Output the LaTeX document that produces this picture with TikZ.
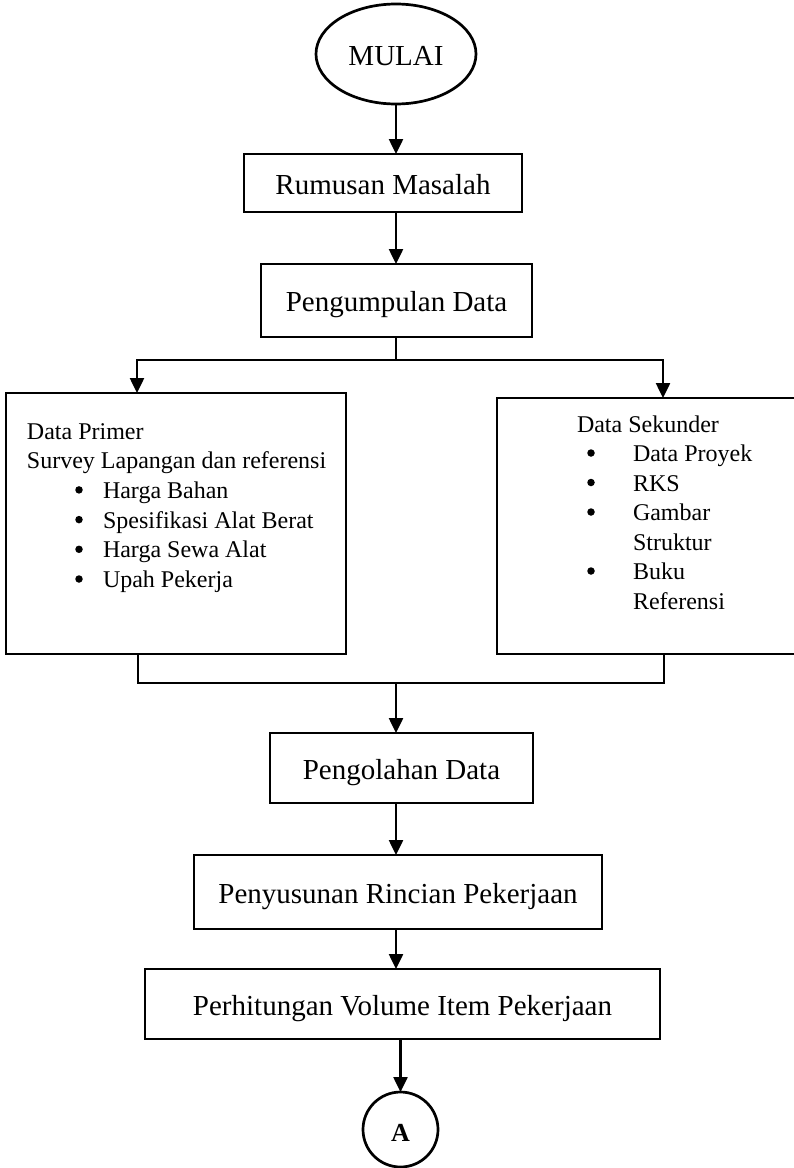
\documentclass[tikz,border=0pt]{standalone}
\usepackage{fontspec}
\setmainfont{Liberation Serif}
\usetikzlibrary{arrows.meta,shapes.geometric}
\begin{document}
\begin{tikzpicture}[x=1pt,y=-1pt,
  every node/.style={inner sep=0pt,outer sep=0pt},
  procbox/.style={draw,rectangle,line width=2.7pt,
    font=\fontsize{29}{34}\selectfont,text height=24pt,text depth=2pt},
  termshape/.style={draw,ellipse,line width=2.7pt,
    font=\fontsize{29}{34}\selectfont,text height=24pt,text depth=2pt},
  pagelink/.style={draw,circle,line width=2.7pt,minimum size=75pt,
    font=\fontsize{26}{30}\selectfont\bfseries,text height=24pt,text depth=0pt},
  listbox/.style={draw,rectangle,line width=2.7pt},
  listline/.style={anchor=base west,font=\fontsize{24}{29}\selectfont},
  dot/.style={circle,fill=black,minimum size=7.5pt},
  flow/.style={-{Triangle[length=15pt,width=14pt]},line width=2.5pt},
  link/.style={line width=2.5pt},
]
% page and background
\useasboundingbox (0,0) rectangle (793,1168);
\fill[white] (0,0) rectangle (793,1168);

% main process steps
\node[termshape,minimum width=160pt,minimum height=100pt] (mulai) at (396,54) {MULAI};
\node[procbox,minimum width=278pt,minimum height=58pt] (rumusan) at (383,183) {Rumusan Masalah};
\node[procbox,minimum width=271pt,minimum height=73pt] (pengumpulan) at (396.5,300.5) {Pengumpulan Data};

% data boxes
\node[listbox,minimum width=340pt,minimum height=261pt] (primer) at (176,523.5) {};
\node[listbox,minimum width=300pt,minimum height=256pt] (sekunder) at (647,526) {};

% primary data contents
\node[listline] (p1) at (27,439) {Data Primer};
\node[listline] (p2) at (27,468.7) {Survey Lapangan dan referensi};
\node[dot] (b1) at (79,489.9) {};
\node[listline] (p3) at (103,498.4) {Harga Bahan};
\node[dot] (b2) at (79,519.6) {};
\node[listline] (p4) at (103,528.1) {Spesifikasi Alat Berat};
\node[dot] (b3) at (79,549.3) {};
\node[listline] (p5) at (103,557.8) {Harga Sewa Alat};
\node[dot] (b4) at (79,579) {};
\node[listline] (p6) at (103,587.5) {Upah Pekerja};

% secondary data contents
\node[listline] (s1) at (577,432) {Data Sekunder};
\node[dot] (c1) at (591,453) {};
\node[listline] (s2) at (633,461.5) {Data Proyek};
\node[dot] (c2) at (591,482.5) {};
\node[listline] (s3) at (633,491) {RKS};
\node[dot] (c3) at (591,512) {};
\node[listline] (s4) at (633,520.5) {Gambar};
\node[listline] (s5) at (633,550) {Struktur};
\node[dot] (c4) at (591,571) {};
\node[listline] (s6) at (633,579.5) {Buku};
\node[listline] (s7) at (633,609) {Referensi};

% processing steps
\node[procbox,minimum width=263pt,minimum height=70pt] (pengolahan) at (401.5,768) {Pengolahan Data};
\node[procbox,minimum width=408pt,minimum height=74pt] (penyusunan) at (398,892) {Penyusunan Rincian Pekerjaan};
\node[procbox,minimum width=515pt,minimum height=70pt] (perhitungan) at (402.5,1004) {Perhitungan Volume Item Pekerjaan};
\node[pagelink] (konektor) at (400.5,1129.5) {A};

% junction points
\coordinate (split) at (396,360);
\coordinate (jl) at (137,360);
\coordinate (jr) at (663,360);
\coordinate (ml) at (138,683);
\coordinate (mr) at (664,683);
\coordinate (merge) at (396,683);

% connectors
\draw[flow] (mulai.south) -- (mulai.south |- rumusan.north);
\draw[flow] (rumusan.south -| split) -- (split |- pengumpulan.north);
\draw[link] (pengumpulan.south -| split) -- (split);
\draw[flow] (split) -| (jl |- primer.north);
\draw[flow] (split) -| (jr |- sekunder.north);
\draw[link] (ml |- primer.south) -- (ml) -- (mr) -- (mr |- sekunder.south);
\draw[flow] (merge) -- (merge |- pengolahan.north);
\draw[flow] (pengolahan.south -| merge) -- (merge |- penyusunan.north);
\draw[flow] (penyusunan.south -| merge) -- (merge |- perhitungan.north);
\draw[flow] (konektor.north |- perhitungan.south) -- (konektor.north);
\end{tikzpicture}
\end{document}
